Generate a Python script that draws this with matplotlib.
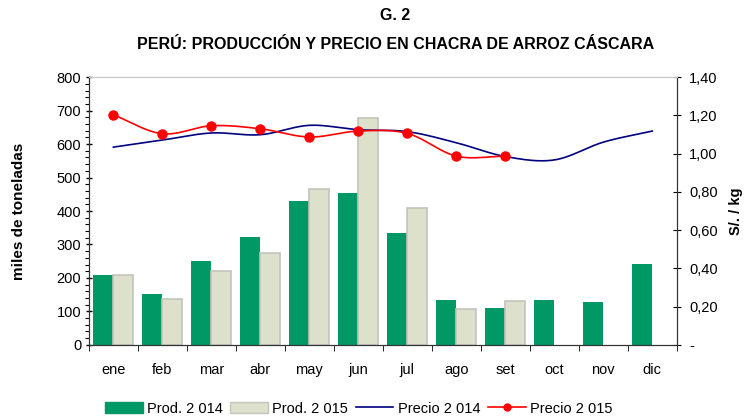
import numpy as np
import matplotlib.pyplot as plt
from matplotlib.ticker import FuncFormatter, MultipleLocator, FixedLocator
from matplotlib.patches import Patch
from matplotlib.lines import Line2D

plt.rcParams['font.family'] = ['Liberation Sans', 'DejaVu Sans']

# Data
meses = ['ene', 'feb', 'mar', 'abr', 'may', 'jun', 'jul', 'ago', 'set', 'oct', 'nov', 'dic']
prod_2014 = [209, 152, 251, 322, 430, 454, 334, 134, 110, 134, 128, 242]
prod_2015 = [209, 136, 222, 275, 466, 677, 409, 106, 132]
precio_2014 = [1.034, 1.071, 1.108, 1.099, 1.148, 1.125, 1.115, 1.057, 0.985, 0.967, 1.060, 1.118]
precio_2015 = [1.203, 1.104, 1.146, 1.130, 1.087, 1.118, 1.106, 0.987, 0.987]


def smooth(y, n=20):
    # Catmull-Rom curve through the points (Excel-style smoothed line)
    y = np.asarray(y, dtype=float)
    x = np.arange(len(y), dtype=float)
    px = np.concatenate([[2 * x[0] - x[1]], x, [2 * x[-1] - x[-2]]])
    py = np.concatenate([[2 * y[0] - y[1]], y, [2 * y[-1] - y[-2]]])
    xs, ys = [], []
    t = np.linspace(0, 1, n, endpoint=False)
    for i in range(1, len(px) - 2):
        for arr, out in ((px, xs), (py, ys)):
            p0, p1, p2, p3 = arr[i - 1], arr[i], arr[i + 1], arr[i + 2]
            out.extend(0.5 * (2 * p1 + (-p0 + p2) * t
                              + (2 * p0 - 5 * p1 + 4 * p2 - p3) * t ** 2
                              + (-p0 + 3 * p1 - 3 * p2 + p3) * t ** 3))
    xs.append(x[-1])
    ys.append(y[-1])
    return np.array(xs), np.array(ys)


fig = plt.figure(figsize=(7.47, 4.17), dpi=100)
ax = fig.add_axes([0.119, 0.173, 0.787, 0.642])
ax2 = ax.twinx()

green = '#009966'
beige = '#dde0cb'
w = 0.41
x = np.arange(len(meses))
ax.bar(x[:len(prod_2014)] - w / 2, prod_2014, w, color=green, zorder=2)
ax.bar(x[:len(prod_2015)] + w / 2, prod_2015, w, color=beige,
       edgecolor='#c4c4bc', linewidth=1.2, zorder=2)

bx, by = smooth(precio_2014)
ax2.plot(bx, by, color='#000080', lw=1.2, zorder=3)
rx, ry = smooth(precio_2015)
ax2.plot(rx, ry, color='#ff0000', lw=1.2, zorder=3)
ax2.plot(x[:len(precio_2015)], precio_2015, 'o', color='#ff0000', ms=6.5, zorder=4)

ax.set_xlim(-0.5, 11.5)
ax.set_ylim(0, 800)
ax2.set_ylim(0, 1.4)

ax.yaxis.set_major_locator(MultipleLocator(100))
ax.yaxis.set_minor_locator(MultipleLocator(20))
ax.tick_params(axis='y', which='major', length=4, direction='inout', labelsize=10.5, width=1)
ax.tick_params(axis='y', which='minor', length=3, direction='out', width=0.8)
ax.set_xticks(x)
ax.set_xticklabels(meses)
ax.xaxis.set_minor_locator(FixedLocator(np.arange(-0.5, 12, 1)))
ax.tick_params(axis='x', which='major', length=0, pad=13, labelsize=10.5)
ax.tick_params(axis='x', which='minor', length=4, direction='out')

ax2.yaxis.set_major_locator(MultipleLocator(0.2))
ax2.yaxis.set_major_formatter(FuncFormatter(
    lambda v, p: '-' if abs(v) < 1e-9 else f'{v:.2f}'.replace('.', ',')))
ax2.tick_params(axis='y', length=6, direction='inout', labelsize=10.5, pad=6)

for a in (ax, ax2):
    a.spines['top'].set_color('#c8c8c8')
    a.spines['left'].set_color('#333333')
    a.spines['right'].set_color('#333333')
    a.spines['bottom'].set_color('#333333')
ax.set_axisbelow(True)

ax.set_ylabel('miles de toneladas', fontsize=11, fontweight='bold', labelpad=22)
ax2.set_ylabel('S/. / kg', fontsize=10.5, fontweight='bold', labelpad=8)

fig.text(0.529, 0.962, 'G. 2', ha='center', va='center', fontsize=11.5, fontweight='bold')
fig.text(0.53, 0.893, 'PERÚ: PRODUCCIÓN Y PRECIO EN CHACRA DE ARROZ CÁSCARA',
         ha='center', va='center', fontsize=11.5, fontweight='bold')

handles = [
    Patch(facecolor=green, edgecolor=green),
    Patch(facecolor=beige, edgecolor='#c4c4bc'),
    Line2D([], [], color='#000080', lw=1.2),
    Line2D([], [], color='#ff0000', lw=1.2, marker='o', ms=5),
]
labels = ['Prod. 2 014', 'Prod. 2 015', 'Precio 2 014', 'Precio 2 015']
fig.legend(handles, labels, loc='lower center', bbox_to_anchor=(0.48, -0.028),
           ncol=4, frameon=False, fontsize=10.5, handlelength=2.6,
           handletextpad=0.3, columnspacing=0.5, handleheight=0.8)

fig.savefig('out.png', dpi=100)
